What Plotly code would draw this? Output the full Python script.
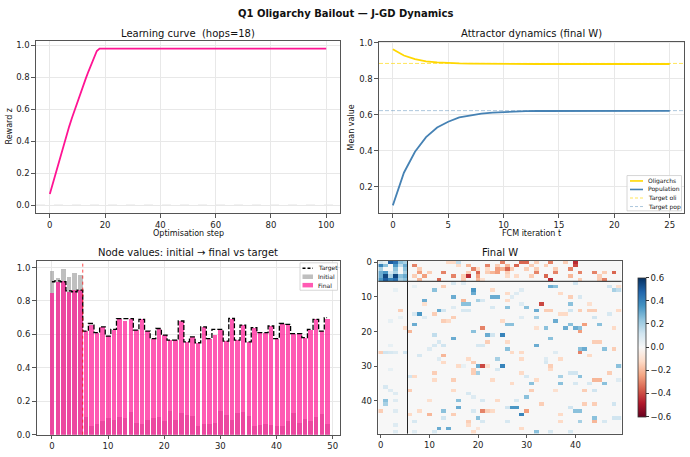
import plotly.graph_objects as go
import numpy as np

# ---------------- data ----------------
learn_steps = [0, 1, 2, 3, 4, 5, 6, 7, 8, 9, 10, 11, 12, 13, 14, 15, 16, 17, 18, 100]
learn_reward = [0.07, 0.132, 0.194, 0.256, 0.318, 0.378, 0.436, 0.492, 0.546, 0.598, 0.648,
                0.697, 0.745, 0.792, 0.838, 0.883, 0.927, 0.965, 0.98, 0.98]

fcm_t = list(range(26))
oli_mean = [0.965, 0.930, 0.910, 0.898, 0.892, 0.888, 0.886, 0.885, 0.884, 0.884,
            0.883, 0.883, 0.883, 0.883, 0.883, 0.883, 0.883, 0.883, 0.883, 0.883,
            0.883, 0.883, 0.883, 0.883, 0.883, 0.883]
pop_mean = [0.095, 0.277, 0.394, 0.475, 0.529, 0.561, 0.585, 0.597, 0.606, 0.612,
            0.616, 0.618, 0.620, 0.621, 0.621, 0.621, 0.622, 0.622, 0.622, 0.622,
            0.622, 0.622, 0.622, 0.622, 0.622, 0.622]
target_oli = 0.886
target_pop = 0.623

n_oli = 6
node_idx = list(range(50))
initial_vals = [0.978, 0.941, 0.992, 0.943, 0.970, 0.957,
                0.105, 0.055, 0.065, 0.080, 0.100, 0.090, 0.105, 0.100, 0.135, 0.070,
                0.065, 0.090, 0.100, 0.105, 0.080, 0.140, 0.090, 0.130, 0.120, 0.115,
                0.050, 0.065, 0.065, 0.070, 0.140, 0.120, 0.090, 0.130, 0.135, 0.115,
                0.050, 0.060, 0.065, 0.060, 0.050, 0.050, 0.085, 0.130, 0.070, 0.095,
                0.085, 0.105, 0.125, 0.065]
final_vals = [0.851, 0.914, 0.920, 0.855, 0.865, 0.869,
              0.624, 0.660, 0.610, 0.643, 0.590, 0.630, 0.694, 0.682, 0.694, 0.625,
              0.690, 0.620, 0.575, 0.635, 0.595, 0.565, 0.565, 0.680, 0.555, 0.585,
              0.550, 0.645, 0.575, 0.600, 0.630, 0.560, 0.695, 0.565, 0.655, 0.555,
              0.640, 0.610, 0.610, 0.650, 0.575, 0.665, 0.660, 0.605, 0.605, 0.580,
              0.630, 0.690, 0.620, 0.695]
target_vals = [0.915, 0.920, 0.915, 0.860, 0.855, 0.865,
               0.620, 0.665, 0.610, 0.645, 0.590, 0.630, 0.694, 0.694, 0.694, 0.625,
               0.690, 0.620, 0.575, 0.635, 0.595, 0.565, 0.565, 0.680, 0.555, 0.585,
               0.550, 0.645, 0.575, 0.630, 0.630, 0.560, 0.695, 0.565, 0.655, 0.555,
               0.640, 0.610, 0.610, 0.650, 0.575, 0.665, 0.660, 0.605, 0.605, 0.580,
               0.630, 0.690, 0.620, 0.700]

W_oli_block = [
    [0.10, 0.05, 0.50, 0.45, 0.25, 0.20],
    [0.40, 0.25, 0.00, 0.35, 0.15, 0.30],
    [0.20, 0.00, 0.00, 0.25, 0.00, 0.25],
    [0.30, 0.35, 0.10, 0.20, 0.00, 0.20],
    [0.30, 0.55, 0.20, 0.55, 0.25, 0.30],
    [0.35, 0.50, 0.40, 0.45, 0.20, 0.25],
]
# (row, col, weight) for the remaining non-zero cells of the final W
W_entries = [
    (0,14,-0.12),(0,15,-0.12),(0,16,0.15),(0,25,-0.3),(0,29,-0.35),(0,30,-0.35),(0,32,-0.15),
    (0,35,-0.3),(0,38,-0.15),(0,40,-0.45),
    (1,7,-0.3),(1,16,-0.12),(1,18,-0.2),(1,22,-0.3),(1,24,-0.15),(1,26,-0.2),(1,28,-0.35),
    (1,31,-0.15),(1,34,-0.15),(1,40,-0.4),
    (2,8,-0.15),(2,19,-0.3),(2,20,-0.12),(2,22,-0.12),(2,24,-0.25),(2,25,-0.2),(2,26,-0.35),
    (2,27,-0.15),(2,30,-0.15),(2,32,-0.15),(2,36,-0.15),(2,39,-0.3),
    (3,8,-0.25),(3,10,-0.15),(3,13,-0.3),(3,18,-0.15),(3,20,-0.35),(3,22,-0.15),(3,23,-0.2),
    (3,24,-0.25),(3,26,-0.15),(3,32,-0.3),(3,36,-0.3),(3,41,-0.3),(3,44,-0.3),(3,46,-0.15),(3,48,-0.35),
    (4,7,-0.15),(4,9,-0.25),(4,15,-0.3),(4,17,-0.15),(4,18,-0.45),(4,20,-0.25),(4,26,-0.12),
    (4,28,-0.12),(4,31,-0.15),(4,34,-0.35),(4,39,-0.2),(4,45,-0.15),
    (5,8,-0.2),(5,12,-0.35),(5,17,-0.15),(5,20,-0.2),(5,21,-0.1),(5,35,-0.45),(5,41,-0.15),
    (5,45,-0.15),(5,46,-0.3),
    (6,15,0.1),(6,17,0.08),(6,40,0.12),(7,35,0.3),(7,36,0.25),(7,47,0.12),(7,49,-0.1),
    (8,48,0.2),(8,49,0.15),(7,13,-0.15),(7,7,0.05),
    (8,3,0.05),(14,4,-0.15),(16,4,0.05),(19,5,-0.12),(20,6,-0.2),(24,2,0.05),(26,0,-0.15),
    (26,1,0.12),(26,2,0.1),(26,3,0.08),(26,5,0.12),
    (8,11,0.25),(10,15,0.3),(11,17,-0.2),(12,17,0.25),(12,18,0.25),(8,19,0.35),(9,19,0.3),
    (11,20,0.2),(11,21,0.1),(10,23,0.3),(10,24,0.3),(8,23,-0.12),(13,23,0.1),(11,9,0.3),
    (12,9,-0.1),(15,8,0.35),(15,7,0.1),(16,9,0.08),(14,12,0.3),(14,13,0.12),(15,11,-0.15),
    (17,13,-0.15),(17,14,-0.12),(16,15,-0.15),(13,15,0.08),(14,17,0.1),(14,18,0.1),(18,7,0.3),
    (21,11,0.15),(22,15,0.3),(20,19,0.25),(19,21,-0.3),(21,22,0.3),(21,23,0.12),(24,20,0.1),
    (24,21,0.1),(23,22,-0.15),(25,10,0.08),(24,11,0.1),(23,12,0.1),(24,13,0.12),(27,8,0.1),
    (27,13,-0.2),(28,18,-0.12),(29,19,-0.15),(28,24,0.2),(17,2,0.05),
    (9,26,-0.12),(11,26,-0.12),(10,27,0.08),(9,28,0.08),(8,29,0.08),(13,26,0.25),(12,29,0.08),
    (13,30,0.25),(12,33,-0.4),(14,32,0.3),(14,34,-0.15),(14,35,-0.15),(9,37,-0.12),(15,37,-0.12),
    (14,39,0.12),(15,38,-0.12),(12,39,0.25),(10,39,-0.15),(10,41,0.1),(14,41,-0.15),(12,43,-0.1),
    (14,43,-0.15),(14,44,-0.15),(16,44,0.12),(15,47,0.1),(14,49,-0.12),(17,25,-0.12),(18,26,0.25),
    (18,27,0.25),(16,29,0.08),(16,32,0.2),(17,36,0.3),(19,32,-0.1),(19,34,0.25),(19,38,0.3),
    (18,39,0.25),(19,40,0.3),(19,41,0.25),(20,41,-0.25),(18,42,-0.25),(18,45,0.25),(19,48,-0.12),
    (21,25,0.4),(23,26,-0.12),(25,26,0.25),(26,27,-0.12),(26,29,-0.12),(22,35,0.25),(24,32,0.3),
    (26,36,0.08),(25,41,0.25),(26,41,-0.3),(25,42,0.3),(23,44,-0.15),(23,45,-0.15),(25,46,0.25),
    (27,43,-0.12),(25,48,-0.15),(28,34,0.08),
    (28,12,0.08),(29,13,-0.12),(30,16,-0.12),(30,17,0.05),(31,19,-0.15),(32,19,-0.15),(30,20,0.3),
    (30,21,-0.4),(30,22,-0.1),(31,24,0.1),(31,2,0.05),(33,6,0.12),(33,7,-0.12),(32,11,-0.15),
    (34,11,-0.12),(34,15,-0.15),(32,20,0.2),(34,23,-0.12),(37,6,-0.15),(36,1,0.1),(37,2,0.08),
    (38,3,0.08),(37,15,-0.12),(38,18,0.1),(39,19,0.08),(40,16,0.25),(42,16,0.3),(40,1,0.25),
    (41,1,0.2),(40,3,0.08),(40,10,-0.1),(40,21,0.1),(40,24,-0.12),(43,0,-0.15),(43,3,0.08),
    (44,6,-0.12),(43,8,-0.12),(44,10,-0.2),(43,13,0.25),(45,13,0.12),(44,15,-0.15),(46,18,-0.15),
    (43,19,0.1),(45,20,0.25),(43,21,-0.3),(43,22,-0.15),(46,21,0.1),(43,23,-0.12),(46,7,0.1),
    (47,3,0.08),(48,12,0.3),(48,14,0.3),(49,11,0.1),(47,18,-0.12),(49,19,-0.12),(48,20,-0.08),
    (49,3,0.08),(49,7,0.08),
    (30,25,0.4),(28,29,-0.12),(29,34,0.1),(30,35,-0.15),(31,35,-0.12),(28,37,-0.12),(32,29,-0.12),
    (33,30,0.1),(33,37,0.2),(32,39,0.12),(32,40,0.12),(33,41,0.25),(32,47,-0.15),(30,49,0.25),
    (35,27,-0.12),(35,31,0.25),(34,32,-0.12),(35,37,0.25),(35,40,0.1),(35,43,0.1),(34,44,-0.2),
    (34,45,-0.2),(35,46,0.25),(34,49,0.08),(37,31,-0.15),(37,36,-0.1),(37,42,-0.15),(37,44,0.12),
    (39,30,0.25),(40,28,0.1),(42,27,0.35),(42,28,0.35),(42,26,0.12),(43,30,-0.25),(44,29,0.4),
    (41,33,-0.15),(42,39,0.12),(43,40,0.25),(43,41,0.25),(41,42,-0.15),(41,44,-0.15),(41,48,0.12),
    (45,44,0.25),(46,44,-0.2),(46,46,0.1),(46,41,0.2),(44,37,-0.12),(46,37,-0.12),(46,26,0.1),
    (45,48,0.12),(45,49,0.12),(48,29,-0.12),(49,32,0.25),(49,35,0.1),(49,39,0.1),
]

W_mat = np.zeros((50, 50))
W_mat[:n_oli, :n_oli] = np.array(W_oli_block)
for r, c, v in W_entries:
    W_mat[r, c] = v

# ---------------- styling ----------------
FW, FH = 690, 457
def xd(a, b):
    return [a / FW, b / FW]
def yd(top, bot):
    return [1 - bot / FH, 1 - top / FH]
def px(x):
    return x / FW
def py(y):
    return 1 - y / FH

FONT = "DejaVu Sans"
C_PINK = "#ff1493"
C_GOLD = "#FFD700"
C_BLUE = "#4682B4"
C_GOLD_T = "rgba(255,215,0,0.65)"
C_BLUE_T = "rgba(70,130,180,0.45)"
C_INIT = "rgba(128,128,128,0.5)"
C_FINAL = "rgba(255,20,147,0.7)"

AX = dict(showline=True, mirror=True, linecolor="#555", linewidth=1.2,
          ticks="outside", ticklen=3.5, tickwidth=0.8, tickcolor="#555",
          tickfont=dict(size=8.5, color="#222", family=FONT),
          showgrid=True, gridcolor="#e8e8e8", gridwidth=0.8, zeroline=False)

fig = go.Figure()

# Learning curve
fig.add_trace(go.Scatter(x=learn_steps, y=learn_reward, mode="lines",
                         line=dict(color=C_PINK, width=1.8), showlegend=False,
                         xaxis="x", yaxis="y"))

# Attractor dynamics
fig.add_trace(go.Scatter(x=fcm_t, y=oli_mean, mode="lines", name="Oligarchs",
                         line=dict(color=C_GOLD, width=1.8), showlegend=False,
                         xaxis="x2", yaxis="y2"))
fig.add_trace(go.Scatter(x=fcm_t, y=pop_mean, mode="lines", name="Population",
                         line=dict(color=C_BLUE, width=1.8), showlegend=False,
                         xaxis="x2", yaxis="y2"))

# Node values
fig.add_trace(go.Bar(x=node_idx, y=initial_vals, width=0.8, name="Initial",
                     marker=dict(color=C_INIT, line=dict(width=0)),
                     showlegend=False, xaxis="x3", yaxis="y3"))
fig.add_trace(go.Bar(x=node_idx, y=final_vals, width=0.8, name="Final",
                     marker=dict(color=C_FINAL, line=dict(width=0)),
                     showlegend=False, xaxis="x3", yaxis="y3"))
fig.add_trace(go.Scatter(x=node_idx, y=target_vals, mode="lines", name="Target",
                         line=dict(color="black", width=1.3, dash="5px,2px", shape="hvh"),
                         showlegend=False, xaxis="x3", yaxis="y3"))

# Final W heatmap
rdbu = ['#67001f', '#b2182b', '#d6604d', '#f4a582', '#fddbc7', '#f7f7f7',
        '#d1e5f0', '#92c5de', '#4393c3', '#2166ac', '#053061']
cscale = [[i / 10, c] for i, c in enumerate(rdbu)]
fig.add_trace(go.Heatmap(z=W_mat, x=list(range(50)), y=list(range(50)),
                         colorscale=cscale, zmin=-0.6, zmax=0.6, showlegend=False,
                         xaxis="x4", yaxis="y4",
                         colorbar=dict(x=637.7 / FW, xanchor="left", xpad=0, ypad=0,
                                       thickness=7.5, lenmode="fraction",
                                       len=(420.7 - 279.3) / FH,
                                       y=1 - 350 / FH, yanchor="middle",
                                       tickvals=[-0.6, -0.4, -0.2, 0.0, 0.2, 0.4, 0.6],
                                       ticktext=["\u22120.6", "\u22120.4", "\u22120.2", "0.0",
                                                 "0.2", "0.4", "0.6"],
                                       ticks="outside", ticklen=3, tickcolor="#333",
                                       tickfont=dict(size=8.5, color="#222", family=FONT),
                                       outlinewidth=0.8, outlinecolor="#333")))

shapes = [
    dict(type="line", xref="x domain", yref="y", x0=0, x1=1, y0=0, y1=0,
         line=dict(color="#bbbbbb", width=0.8, dash="dash"), layer="below"),
    dict(type="line", xref="x2 domain", yref="y2", x0=0, x1=1, y0=target_oli, y1=target_oli,
         line=dict(color=C_GOLD_T, width=1, dash="4px,2px")),
    dict(type="line", xref="x2 domain", yref="y2", x0=0, x1=1, y0=target_pop, y1=target_pop,
         line=dict(color=C_BLUE_T, width=1, dash="4px,2px")),
    dict(type="line", xref="x3", yref="y3 domain", x0=n_oli - 0.5, x1=n_oli - 0.5, y0=0, y1=1,
         line=dict(color="rgba(255,0,0,0.7)", width=1, dash="dot")),
    dict(type="line", xref="x4", yref="y4 domain", x0=n_oli - 0.5, x1=n_oli - 0.5, y0=0, y1=1,
         line=dict(color="#222", width=1)),
    dict(type="line", xref="x4 domain", yref="y4", x0=0, x1=1, y0=n_oli - 0.5, y1=n_oli - 0.5,
         line=dict(color="#222", width=1)),
]

def ann(text, x, y, size=10, bold=False, angle=0, color="#111", xanchor="center"):
    t = f"<b>{text}</b>" if bold else text
    return dict(text=t, x=px(x), y=py(y), xref="paper", yref="paper",
                showarrow=False, xanchor=xanchor, yanchor="middle", textangle=angle,
                font=dict(size=size, color=color, family=FONT))

annotations = [
    ann("Q1 Oligarchy Bailout \u2014 J-GD Dynamics", 345, 10, size=10, bold=True),
    ann("Learning curve  (hops=18)", 188, 30, size=10),
    ann("Attractor dynamics (final W)", 531, 30, size=10),
    ann("Node values: initial \u2192 final vs target", 188, 254, size=10),
    ann("Final W", 500, 254, size=10),
    ann("Optimisation step", 188, 234, size=8),
    ann("FCM iteration t", 531, 234, size=8),
    ann("Reward z", 10, 125, size=8, angle=-90),
    ann("Mean value", 352, 126, size=8, angle=-90),
]

# ---- hand-drawn legends (matplotlib-like compact boxes) ----
def legend_box(x0, y0, x1, y1):
    shapes.append(dict(type="rect", xref="paper", yref="paper", x0=px(x0), x1=px(x1),
                       y0=py(y1), y1=py(y0), fillcolor="rgba(255,255,255,0.85)",
                       line=dict(color="#cccccc", width=0.8), layer="above"))

def legend_line(x0, x1, y, color, dash="solid", width=1.8):
    shapes.append(dict(type="line", xref="paper", yref="paper", x0=px(x0), x1=px(x1),
                       y0=py(y), y1=py(y), line=dict(color=color, width=width, dash=dash),
                       layer="above"))

def legend_patch(x0, x1, y, color):
    shapes.append(dict(type="rect", xref="paper", yref="paper", x0=px(x0), x1=px(x1),
                       y0=py(y + 2.3), y1=py(y - 2.3), fillcolor=color,
                       line=dict(width=0), layer="above"))

# Attractor legend
legend_box(627, 175, 681.5, 211)
leg1 = [("Oligarchs", C_GOLD, "solid"), ("Population", C_BLUE, "solid"),
        ("Target oli", C_GOLD_T, "3px,2px"), ("Target pop", C_BLUE_T, "3px,2px")]
for i, (lab, col, dsh) in enumerate(leg1):
    yy = 180.5 + 8.7 * i
    legend_line(630, 643, yy, col, dsh, 1.6 if dsh == "solid" else 1.0)
    annotations.append(ann(lab, 646, yy, size=6, xanchor="left"))

# Node values legend
legend_box(300, 264, 337.5, 292)
legend_line(302.5, 313, 269.5, "black", "3px,2px", 1.4)
annotations.append(ann("Target", 316, 269.5, size=6, xanchor="left"))
legend_patch(302.5, 313, 278.2, C_INIT)
annotations.append(ann("Initial", 316, 278.2, size=6, xanchor="left"))
legend_patch(302.5, 313, 286.8, C_FINAL)
annotations.append(ann("Final", 316, 286.8, size=6, xanchor="left"))

fig.update_layout(
    width=FW, height=FH, margin=dict(l=0, r=0, t=0, b=0),
    paper_bgcolor="white", plot_bgcolor="white",
    font=dict(family=FONT, color="#222"),
    barmode="overlay", bargap=0, showlegend=False,
    xaxis=dict(AX, domain=xd(36, 340), anchor="y", range=[-5, 105],
               tickvals=[0, 20, 40, 60, 80, 100]),
    yaxis=dict(AX, domain=yd(37.5, 213.3), anchor="x", range=[-0.049, 1.029],
               tickvals=[0, 0.2, 0.4, 0.6, 0.8, 1.0], tickformat=".1f"),
    xaxis2=dict(AX, domain=xd(379, 683.5), anchor="y2", range=[-1.25, 26.25],
                tickvals=[0, 5, 10, 15, 20, 25]),
    yaxis2=dict(AX, domain=yd(38.3, 213.3), anchor="x2", range=[0.052, 1.008],
                tickvals=[0.2, 0.4, 0.6, 0.8, 1.0], tickformat=".1f"),
    xaxis3=dict(AX, domain=xd(36.7, 340), anchor="y3", range=[-2.7, 51.3],
                tickvals=[0, 10, 20, 30, 40, 50]),
    yaxis3=dict(AX, domain=yd(262, 439.3), anchor="x3", range=[0, 1.04],
                tickvals=[0, 0.2, 0.4, 0.6, 0.8, 1.0], tickformat=".1f"),
    xaxis4=dict(AX, domain=xd(378.3, 621.7), anchor="y4", range=[-0.5, 49.5],
                tickvals=[0, 10, 20, 30, 40], showgrid=False),
    yaxis4=dict(AX, domain=yd(261.7, 438.3), anchor="x4", range=[49.5, -0.5],
                tickvals=[0, 10, 20, 30, 40], showgrid=False),
    shapes=shapes,
    annotations=annotations,
)

fig.write_html("out.html")
